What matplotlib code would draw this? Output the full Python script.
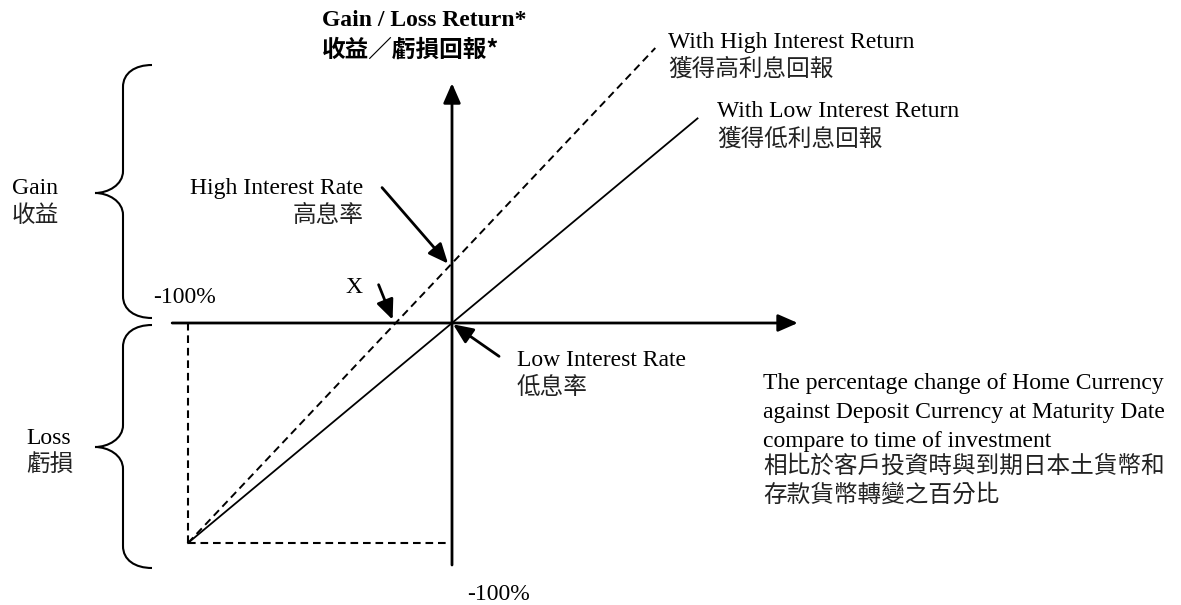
import matplotlib
matplotlib.use("Agg")
import matplotlib.pyplot as plt
from matplotlib.path import Path
from matplotlib.patches import PathPatch
from matplotlib.transforms import Affine2D

plt.rcParams["lines.scale_dashes"] = False

# ── Data (percent change / percent return) ───────────────
axis_x = [-106, 131]          # horizontal axis extent
axis_y = [-110, 109]          # vertical axis extent
low_x = [-100, 93]            # with low interest return
low_y = [-100, 93]
high_x = [-100, 77]           # with high interest return
high_y = [-100, 125]
guide_v_x = [-100, -100]      # dashed guide down from -100%
guide_v_y = [-100, 0]
guide_h_x = [-100, -2]        # dashed guide across at -100%
guide_h_y = [-100, -100]
high_rate_pt = (0, 27)        # high interest rate intercept
x_pt = (-21, 0)               # break-even point X
low_rate_pt = (0, 0)          # low interest rate point

# ── Layout ───────────────────────────────────────────────
W, H = 1181, 605
ORIG = (452, 323)             # pixel position of origin
SX, SY = 2.64, 2.2            # pixels per percent
FS = 17
LATIN = ["Liberation Serif", "Noto Sans CJK TC"]
CJK = ["Noto Sans CJK TC", "Liberation Serif"]

fig = plt.figure(figsize=(W / 100, H / 100), dpi=100)
ax = fig.add_axes([0, 0, 1, 1])
ax.set_xlim(-ORIG[0] / SX, (W - ORIG[0]) / SX)
ax.set_ylim((ORIG[1] - H) / SY, ORIG[1] / SY)
ax.axis("off")

# pixel coordinates (y down) for labels and braces
px = Affine2D().scale(1, -1).translate(0, H)

# axes with arrow heads
axis_arrow = dict(arrowstyle="-|>,head_length=0.8,head_width=0.35", lw=2,
                  color="black", shrinkA=0, shrinkB=0, mutation_scale=15)
ax.annotate("", xy=(axis_x[1], 0), xytext=(axis_x[0], 0), arrowprops=axis_arrow)
ax.annotate("", xy=(0, axis_y[1]), xytext=(0, axis_y[0]), arrowprops=axis_arrow)

# return lines
ax.plot(low_x, low_y, color="black", lw=1.3)
ax.plot(high_x, high_y, color="black", lw=1.4, dashes=(5.5, 3.5))
ax.plot(guide_v_x, guide_v_y, color="black", lw=1.5, dashes=(5.5, 3.5))
ax.plot(guide_h_x, guide_h_y, color="black", lw=1.5, dashes=(5.5, 3.5))

# pointer arrows
ptr = dict(arrowstyle="-|>,head_length=0.8,head_width=0.35", lw=2,
           color="black", shrinkA=0, shrinkB=0, mutation_scale=15)
ax.annotate("", xy=(high_rate_pt[0] - 1.5, high_rate_pt[1]), xytext=(-66, 76),
            textcoords="offset pixels", arrowprops=ptr)
ax.annotate("", xy=(x_pt[0] - 1.5, x_pt[1] + 1.5), xytext=(-14, 35),
            textcoords="offset pixels", arrowprops=ptr)
ax.annotate("", xy=(low_rate_pt[0] + 0.4, low_rate_pt[1] - 0.6), xytext=(46, -32),
            textcoords="offset pixels", arrowprops=ptr)


# braces
def brace(top, tip, bottom, xs=123, xt=95, xe=152):
    verts = [(xe, top), (135, top), (xs, top + 8), (xs, top + 22),
             (xs, tip - 22),
             (xs, tip - 8), (108, tip), (xt, tip),
             (108, tip), (xs, tip + 8), (xs, tip + 22),
             (xs, bottom - 22),
             (xs, bottom - 8), (135, bottom), (xe, bottom)]
    codes = [Path.MOVETO, Path.CURVE4, Path.CURVE4, Path.CURVE4,
             Path.LINETO,
             Path.CURVE4, Path.CURVE4, Path.CURVE4,
             Path.CURVE4, Path.CURVE4, Path.CURVE4,
             Path.LINETO,
             Path.CURVE4, Path.CURVE4, Path.CURVE4]
    ax.add_patch(PathPatch(Path(verts, codes), transform=px, fill=False,
                           lw=1.5, edgecolor="black"))


brace(65, 193, 318)
brace(325, 447, 568)


# labels
def label(x, y, s, fam=LATIN, color="black", **kw):
    ax.text(x, y, s, transform=px, fontsize=FS, family=fam, va="baseline",
            color=color, **kw)


GREY = "#222222"
label(322, 26, "Gain / Loss Return*", weight="bold")
label(322, 57, "收益／虧損回報*", fam=CJK, weight="bold")
label(668, 48, "With High Interest Return")
label(668, 76, "獲得高利息回報", fam=CJK, color=GREY)
label(717, 117, "With Low Interest Return")
label(717, 146, "獲得低利息回報", fam=CJK, color=GREY)
label(12, 194, "Gain")
label(12, 222, "收益", fam=CJK, color=GREY)
label(26, 444, "Loss")
label(26, 471, "虧損", fam=CJK, color=GREY)
label(363, 194, "High Interest Rate", ha="right")
label(363, 222, "高息率", fam=CJK, ha="right", color=GREY)
label(153, 303, "-100%")
label(345, 293, "X")
label(517, 366, "Low Interest Rate")
label(517, 394, "低息率", fam=CJK, color=GREY)
label(467, 600, "-100%")
label(763, 389, "The percentage change of Home Currency")
label(763, 418, "against Deposit Currency at Maturity Date")
label(763, 447, "compare to time of investment")
label(763, 473, "相比於客戶投資時與到期日本土貨幣和", fam=CJK, color=GREY)
label(763, 502, "存款貨幣轉變之百分比", fam=CJK, color=GREY)

fig.savefig("out.png", dpi=100)
plt.close(fig)
